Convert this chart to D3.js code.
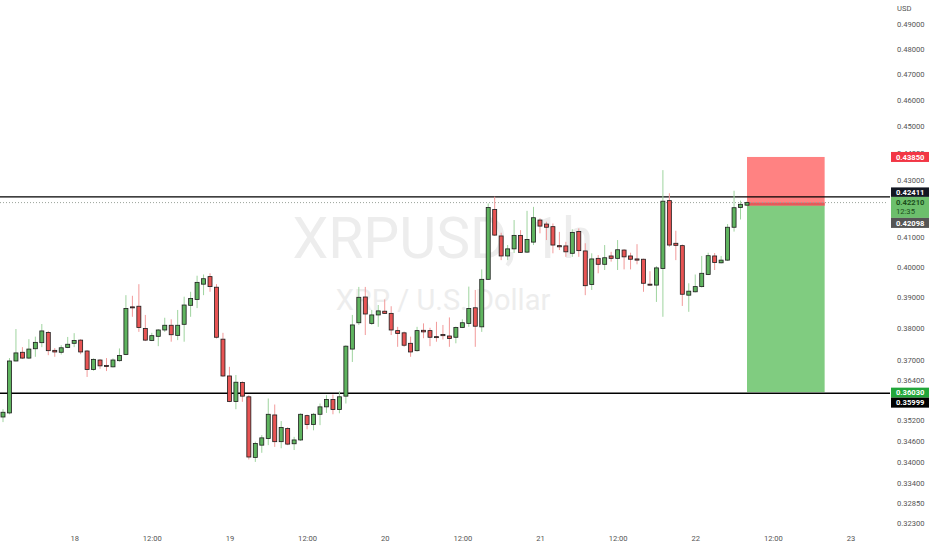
<!DOCTYPE html>
<html>
<head>
<meta charset="utf-8">
<script src="https://cdn.jsdelivr.net/npm/d3@7"></script>
<style>
  html, body { margin: 0; padding: 0; background: #fff; }
  svg { display: block; font-family: Roboto, "Liberation Sans", sans-serif; }
</style>
</head>
<body>
<script>
const width = 932;
const height = 550;

// hourly candles, first one 17th 13:00, last 22nd 08:00
const opens  = [0.3529,0.3541,0.3698,0.3725,0.3707,0.3736,0.3755,0.3787,0.3731,0.3725,0.3740,0.3753,0.3763,0.3729,0.3672,0.3701,0.3684,0.3680,0.3699,0.3718,
                0.3869,0.3871,0.3800,0.3762,0.3775,0.3795,0.3810,0.3778,0.3813,0.3874,0.3893,0.3943,0.3968,0.3933,0.3766,0.3652,0.3575,0.3632,0.3589,0.3412,
                0.3447,0.3466,0.3535,0.3457,0.3495,0.3451,0.3462,0.3533,0.3507,0.3537,0.3559,0.3581,0.3551,0.3591,0.3735,0.3818,0.3901,0.3816,0.3843,0.3855,
                0.3848,0.3793,0.3786,0.3753,0.3730,0.3794,0.3793,0.3774,0.3781,0.3776,0.3772,0.3803,0.3816,0.3866,0.3805,0.3959,0.4197,0.4105,0.4037,0.4061,
                0.4107,0.4050,0.4084,0.4160,0.4146,0.4137,0.4072,0.4071,0.4046,0.4120,0.4054,0.3942,0.4029,0.4009,0.4037,0.4029,0.4057,0.4037,0.4027,0.4026,
                0.3943,0.3940,0.3995,0.4228,0.4080,0.4072,0.3907,0.3918,0.3935,0.3975,0.4037,0.4014,0.4023,0.4135,0.4204,0.4212];
const highs  = [0.3552,0.3707,0.3798,0.3741,0.3766,0.3774,0.3814,0.3792,0.3738,0.3747,0.3773,0.3785,0.3766,0.3732,0.3706,0.3704,0.3707,0.3706,0.3737,0.3907,
                0.3905,0.3943,0.3843,0.3786,0.3798,0.3834,0.3829,0.3859,0.3902,0.3918,0.3971,0.3975,0.3979,0.3943,0.3786,0.3680,0.3655,0.3636,0.3594,0.3457,
                0.3476,0.3584,0.3566,0.3517,0.3499,0.3471,0.3540,0.3536,0.3541,0.3569,0.3594,0.3596,0.3606,0.3747,0.3843,0.3934,0.3934,0.3859,0.3875,0.3893,
                0.3871,0.3805,0.3790,0.3774,0.3805,0.3816,0.3802,0.3821,0.3811,0.3835,0.3806,0.3829,0.3935,0.3924,0.3992,0.4218,0.4242,0.4116,0.4074,0.4160,
                0.4125,0.4192,0.4206,0.4166,0.4154,0.4148,0.4119,0.4085,0.4128,0.4131,0.4080,0.4046,0.4040,0.4074,0.4051,0.4091,0.4060,0.4048,0.4077,0.4028,
                0.3986,0.4003,0.4337,0.4254,0.4123,0.4076,0.3946,0.3975,0.4037,0.4048,0.4047,0.4037,0.4146,0.4263,0.4228,0.4225];
const lows   = [0.3514,0.3537,0.3697,0.3704,0.3704,0.3711,0.3741,0.3716,0.3711,0.3718,0.3738,0.3741,0.3719,0.3649,0.3668,0.3674,0.3667,0.3678,0.3696,0.3716,
                0.3837,0.3789,0.3760,0.3760,0.3744,0.3789,0.3758,0.3763,0.3758,0.3837,0.3865,0.3907,0.3918,0.3768,0.3649,0.3573,0.3552,0.3574,0.3406,0.3399,
                0.3425,0.3447,0.3442,0.3438,0.3447,0.3433,0.3459,0.3493,0.3490,0.3505,0.3541,0.3537,0.3540,0.3569,0.3695,0.3811,0.3779,0.3811,0.3805,0.3846,
                0.3779,0.3742,0.3742,0.3711,0.3727,0.3769,0.3744,0.3758,0.3765,0.3742,0.3753,0.3801,0.3805,0.3742,0.3789,0.3957,0.4105,0.4023,0.4023,0.4047,
                0.4047,0.4047,0.4074,0.4114,0.4091,0.4046,0.4057,0.4034,0.4034,0.4034,0.3907,0.3924,0.3979,0.3990,0.4018,0.3990,0.3992,0.3992,0.4009,0.3918,
                0.3938,0.3885,0.3837,0.4068,0.4023,0.3872,0.3853,0.3916,0.3932,0.3973,0.3990,0.4012,0.4020,0.4120,0.4162,0.4209];
const closes = [0.3543,0.3698,0.3723,0.3707,0.3735,0.3756,0.3792,0.3730,0.3726,0.3739,0.3750,0.3762,0.3726,0.3672,0.3703,0.3683,0.3681,0.3701,0.3715,0.3864,
                0.3866,0.3803,0.3763,0.3777,0.3795,0.3810,0.3780,0.3810,0.3875,0.3896,0.3949,0.3961,0.3935,0.3772,0.3652,0.3575,0.3633,0.3591,0.3413,0.3452,
                0.3468,0.3537,0.3457,0.3498,0.3450,0.3462,0.3537,0.3507,0.3537,0.3559,0.3581,0.3551,0.3589,0.3744,0.3811,0.3900,0.3846,0.3843,0.3856,0.3848,
                0.3795,0.3784,0.3747,0.3726,0.3793,0.3789,0.3772,0.3772,0.3777,0.3768,0.3803,0.3818,0.3864,0.3807,0.3959,0.4204,0.4108,0.4037,0.4061,0.4107,
                0.4049,0.4093,0.4168,0.4139,0.4135,0.4074,0.4068,0.4051,0.4117,0.4055,0.3938,0.4027,0.4009,0.4031,0.4029,0.4058,0.4034,0.4026,0.4023,0.3946,
                0.3940,0.3997,0.4226,0.4074,0.4073,0.3910,0.3920,0.3935,0.3979,0.4038,0.4015,0.4023,0.4135,0.4203,0.4215,0.4221];

const firstHour = Date.UTC(2023, 5, 17, 13);
const hourMs = 3600 * 1000;

// 0.42 and 0.358 sit under the price tags, so they are left out
const priceTicks = [0.49, 0.48, 0.47, 0.46, 0.45, 0.44, 0.43, 0.41, 0.40, 0.39, 0.38, 0.37, 0.364, 0.352, 0.346, 0.340, 0.334, 0.3285, 0.323];
const timeTicks = [
  Date.UTC(2023, 5, 18, 0), Date.UTC(2023, 5, 18, 12),
  Date.UTC(2023, 5, 19, 0), Date.UTC(2023, 5, 19, 12),
  Date.UTC(2023, 5, 20, 0), Date.UTC(2023, 5, 20, 12),
  Date.UTC(2023, 5, 21, 0), Date.UTC(2023, 5, 21, 12),
  Date.UTC(2023, 5, 22, 0), Date.UTC(2023, 5, 22, 12),
  Date.UTC(2023, 5, 23, 0)
];

const resistance = 0.42411;
const support = 0.35999;
const lastPrice = 0.42210;
const countdown = "12:35";
const stopLoss = 0.43850;
const entry = 0.42098;
const target = 0.36030;
const boxStart = Date.UTC(2023, 5, 22, 8);
const boxEnd = Date.UTC(2023, 5, 22, 20);

const candles = opens.map((o, i) => ({
  t: new Date(firstHour + i * hourMs),
  o: o, h: highs[i], l: lows[i], c: closes[i]
}));

const svg = d3.select("body").append("svg")
  .attr("width", width).attr("height", height)
  .attr("viewBox", `0 0 ${width} ${height}`);

const plotRight = 887;

const x = d3.scaleUtc()
  .domain([new Date(firstHour), new Date(firstHour + 115 * hourMs)])
  .range([3, 747]);

const y = d3.scaleLog()
  .domain([0.323, 0.49])
  .range([523, 24]);

// watermark
const mark = svg.append("g").style("fill", "#ededed");
mark.append("text")
  .attr("x", 443).attr("y", 258)
  .attr("text-anchor", "middle")
  .style("font-size", "57px")
  .text("XRPUSD, 1h");
mark.append("text")
  .attr("x", 443).attr("y", 310)
  .attr("text-anchor", "middle")
  .style("font-size", "29px")
  .text("XRP / U.S. Dollar");

// short position tool
const bx0 = x(new Date(boxStart)), bx1 = x(new Date(boxEnd));
svg.append("rect")
  .attr("x", bx0).attr("width", bx1 - bx0)
  .attr("y", y(stopLoss)).attr("height", y(entry) - y(stopLoss))
  .style("fill", "#ff8282");
svg.append("rect")
  .attr("x", bx0).attr("width", bx1 - bx0)
  .attr("y", y(lastPrice)).attr("height", y(entry) - y(lastPrice))
  .style("fill", "#e45b5b");
svg.append("rect")
  .attr("x", bx0).attr("width", bx1 - bx0)
  .attr("y", y(entry)).attr("height", y(target) - y(entry))
  .style("fill", "#80cc80");

// current price dotted line
svg.append("line")
  .attr("x1", 0).attr("x2", plotRight)
  .attr("y1", y(lastPrice)).attr("y2", y(lastPrice))
  .style("stroke", "#9aa39a")
  .style("stroke-width", 1)
  .style("stroke-dasharray", "1,2");

// horizontal levels
svg.selectAll("line.level")
  .data([resistance, support])
  .enter()
  .append("line")
  .attr("class", "level")
  .attr("x1", 0).attr("x2", plotRight + 3)
  .attr("y1", d => y(d)).attr("y2", d => y(d))
  .style("stroke", "#000")
  .style("stroke-width", 1.4);

// candles
const up = d => d.c >= d.o;
const cg = svg.append("g")
  .selectAll("g")
  .data(candles)
  .enter()
  .append("g");

cg.append("line")
  .attr("x1", d => x(d.t)).attr("x2", d => x(d.t))
  .attr("y1", d => y(d.h)).attr("y2", d => y(d.l))
  .style("stroke", d => up(d) ? "#9fd49f" : "#f29a9a")
  .style("stroke-width", 1);

cg.append("rect")
  .attr("x", d => x(d.t) - 2)
  .attr("width", 4)
  .attr("y", d => y(Math.max(d.o, d.c)))
  .attr("height", d => Math.max(1, Math.abs(y(d.o) - y(d.c))))
  .style("fill", d => up(d) ? "#5fb45f" : "#e85454")
  .style("stroke", "#1c1c1c")
  .style("stroke-width", 0.8);

// price axis
const yAxis = svg.append("g")
  .attr("transform", `translate(${plotRight + 6},0)`)
  .call(d3.axisRight(y).tickValues(priceTicks).tickFormat(d3.format(".5f")).tickSize(0).tickPadding(4));
yAxis.select(".domain").remove();
yAxis.selectAll("text")
  .style("font-size", "7.6px")
  .style("fill", "#555")
  .style("font-family", "Roboto, 'Liberation Sans', sans-serif");

svg.append("text")
  .attr("x", 897).attr("y", 11)
  .style("font-size", "7.6px")
  .style("fill", "#555")
  .text("USD");

// time axis
const xAxis = svg.append("g")
  .attr("transform", "translate(0,530)")
  .call(d3.axisBottom(x)
    .tickValues(timeTicks.map(t => new Date(t)))
    .tickFormat(d => d.getUTCHours() === 0 ? d3.utcFormat("%-d")(d) : d3.utcFormat("%H:%M")(d))
    .tickSize(0).tickPadding(6));
xAxis.select(".domain").remove();
xAxis.selectAll("text")
  .style("font-size", "7.6px")
  .style("fill", "#555")
  .style("font-family", "Roboto, 'Liberation Sans', sans-serif");

// price labels on the axis
function priceTag(top, h, bg, lines, fg) {
  const g = svg.append("g");
  g.append("rect")
    .attr("x", 891).attr("y", top)
    .attr("width", 38).attr("height", h)
    .style("fill", bg);
  lines.forEach((s, i) => {
    g.append("text")
      .attr("x", 896).attr("y", top + 7.6 + i * 9.6)
      .style("font-size", "7.6px")
      .style("font-weight", i === 0 ? "bold" : "normal")
      .style("fill", fg)
      .text(s);
  });
}

const fmt = d3.format(".5f");
priceTag(y(stopLoss) - 5, 10, "#f23645", [fmt(stopLoss)], "#fff");
priceTag(y(resistance) - 9.5, 9.5, "#131722", [fmt(resistance)], "#fff");
priceTag(y(resistance), 21, "#6cbf6c", [fmt(lastPrice), countdown], "#1b4d1b");
priceTag(y(resistance) + 21, 10, "#555555", [fmt(entry)], "#fff");
priceTag(y(target) - 4.5, 10, "#22a63a", [fmt(target)], "#fff");
priceTag(y(target) + 5.5, 10, "#000", [fmt(support)], "#fff");
</script>
</body>
</html>
